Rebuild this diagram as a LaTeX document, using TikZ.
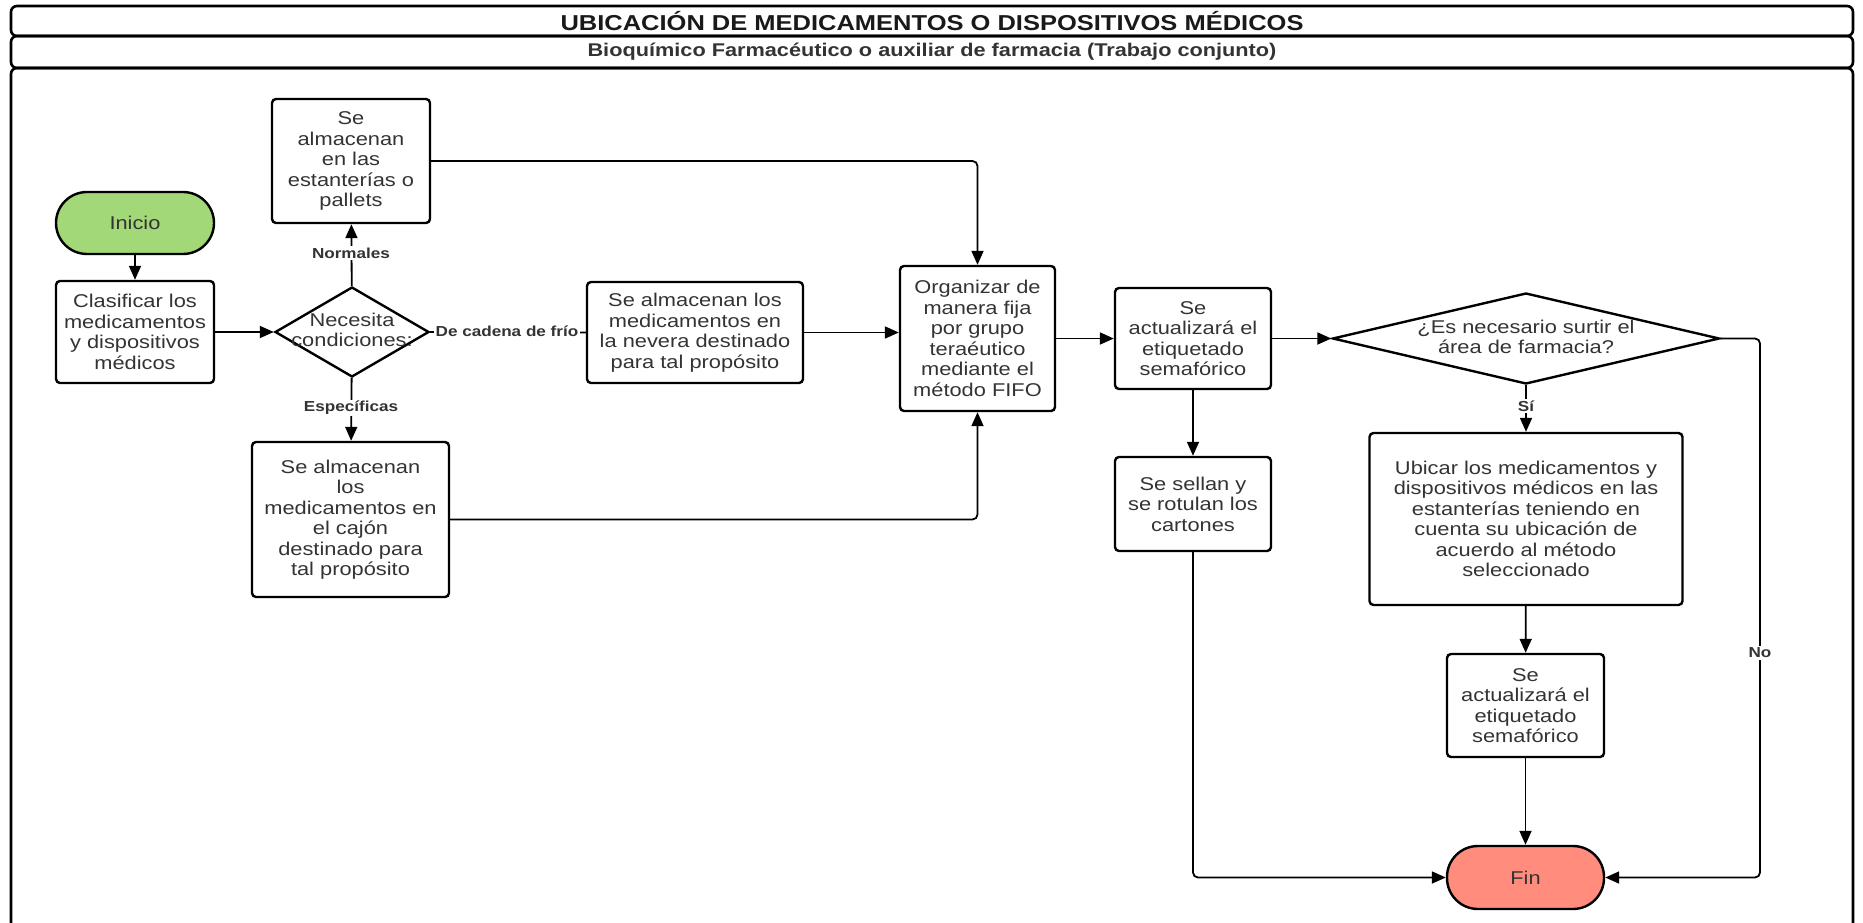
\documentclass[tikz,border=0pt]{standalone}
\usepackage{fontspec}
\setmainfont{Liberation Sans}[FakeStretch=1.18]
\usetikzlibrary{arrows.meta,shapes.geometric}
\definecolor{inigreen}{HTML}{A2D877}
\definecolor{finred}{HTML}{FF8C7D}
\definecolor{txt}{HTML}{333333}
\begin{document}
\begin{tikzpicture}[x=1pt,y=-1pt,
 box/.style={draw, line width=2.4pt, rounded corners=4pt, align=center, text=txt, font=\fontsize{18.5}{20.5}\selectfont, inner sep=0pt},
 term/.style={draw, line width=2.4pt, rounded corners=31pt, align=center, text=txt, font=\fontsize{18.5}{20.5}\selectfont},
 dia/.style={draw, diamond, line width=2.4pt, inner sep=0pt},
 dtext/.style={align=center, text=txt, font=\fontsize{18.5}{20.5}\selectfont},
 lbl/.style={fill=white, text=txt, font=\bfseries\fontsize{14.5}{16}\selectfont, inner sep=1.5pt},
 conn/.style={line width=1.8pt, rounded corners=5pt},
 arr/.style={conn, -{Triangle[length=14pt,width=12pt]}},
 frame/.style={line width=2.6pt, rounded corners=6pt},
]
\useasboundingbox (0,0) rectangle (1863,923);
\clip (0,0) rectangle (1863,923);

% frame
\draw[frame] (11,6) rectangle (1853,36);
\draw[frame] (11,36) rectangle (1853,68);
\draw[frame] (11,68) rectangle (1853,940);
\node[font=\bfseries\fontsize{21.6}{24}\selectfont, text=black!90] (title) at (932,21) {UBICACIÓN DE MEDICAMENTOS O DISPOSITIVOS MÉDICOS};
\node[font=\bfseries\fontsize{18.4}{20}\selectfont, text=txt] (sub) at (932,52) {Bioquímico Farmacéutico o auxiliar de farmacia (Trabajo conjunto)};

% nodes
\node[term, fill=inigreen, minimum width=158, minimum height=62] (ini) at (135,223) {Inicio};
\node[box, minimum width=158, minimum height=102] (cla) at (135,332) {Clasificar los\\medicamentos\\y dispositivos\\médicos};
\node[dia, minimum width=154, minimum height=90] (d1) at (352,332) {};
\node[dtext] (d1t) at (352,330) {Necesita\\condiciones:};
\node[box, minimum width=158, minimum height=124] (est) at (351,161) {Se\\almacenan\\en las\\estanterías o\\pallets};
\node[box, minimum width=216, minimum height=101] (nev) at (695,332.5) {Se almacenan los\\medicamentos en\\la nevera destinado\\para tal propósito};
\node[box, minimum width=197, minimum height=155] (caj) at (350.5,519.5) {Se almacenan\\los\\medicamentos en\\el cajón\\destinado para\\tal propósito};
\node[box, minimum width=155, minimum height=145] (org) at (977.5,338.5) {Organizar de\\manera fija\\por grupo\\teraéutico\\mediante el\\método FIFO};
\node[box, minimum width=156, minimum height=101] (act1) at (1193,338.5) {Se\\actualizará el\\etiquetado\\semafórico};
\node[dia, minimum width=387, minimum height=91] (d2) at (1526,338.5) {};
\node[dtext] (d2t) at (1526,337) {¿Es necesario surtir el\\área de farmacia?};
\node[box, minimum width=156, minimum height=94] (sel) at (1193,504) {Se sellan y\\se rotulan los\\cartones};
\node[box, minimum width=313, minimum height=172] (ubi) at (1526,519) {Ubicar los medicamentos y\\dispositivos médicos en las\\estanterías teniendo en\\cuenta su ubicación de\\acuerdo al método\\seleccionado};
\node[box, minimum width=157, minimum height=103] (act2) at (1525.5,705.5) {Se\\actualizará el\\etiquetado\\semafórico};
\node[term, fill=finred, minimum width=157, minimum height=63] (fin) at (1525.5,877.5) {Fin};
\coordinate (noc) at (1760,877.5);

% connectors
\draw[arr] (ini) -- (cla);
\draw[arr] (cla) -- (d1);
\draw[arr] (d1) -- (est);
\draw[arr] (d1) -- (caj);
\draw[conn] (d1.east) -- (nev.west);
\draw[arr] (est.east) -| (org.north);
\draw[arr] (nev.east) -- (nev.east -| org.west);
\draw[arr] (caj.east) -| (org.south);
\draw[arr] (org) -- (act1);
\draw[arr] (act1) -- (d2);
\draw[arr] (act1) -- (sel);
\draw[arr] (d2) -- (ubi);
\draw[arr] (ubi) -- (act2);
\draw[arr] (act2) -- (fin);
\draw[arr] (sel.south) |- (fin.west);
\draw[arr] (d2.east) -| (noc) -- (fin.east);

% labels
\node[lbl] (lnorm) at (351,253) {Normales};
\node[lbl] (lesp) at (351,408) {Específicas};
\node[lbl] (lfrio) at (507,331) {De cadena de frío};
\node[lbl] (lsi) at (1526,406) {Sí};
\node[lbl] (lno) at (1760,653) {No};
\end{tikzpicture}
\end{document}
